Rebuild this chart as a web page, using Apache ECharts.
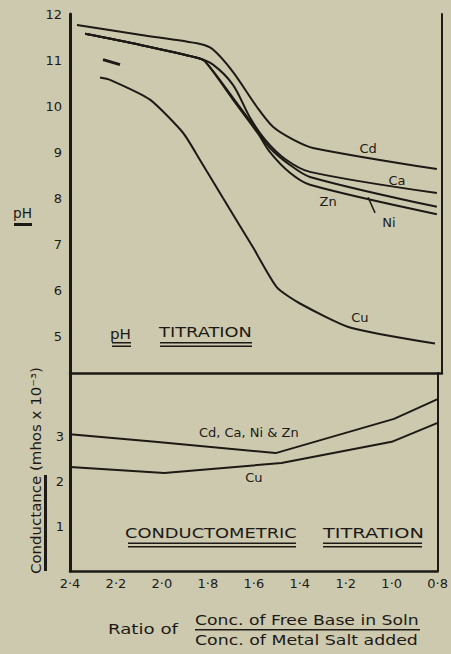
<!DOCTYPE html>
<html>
<head>
<meta charset="utf-8">
<script src="https://cdn.jsdelivr.net/npm/echarts@6/dist/echarts.min.js"></script>
<style>
html,body{margin:0;padding:0;background:#cdc9ae;}
#c{width:451px;height:654px;}
</style>
</head>
<body>
<div id="c"></div>
<script>
// ---------- data ----------
const xTicks = [2.4, 2.2, 2.0, 1.8, 1.6, 1.4, 1.2, 1.0, 0.8];
const xTickLabels = ['2·4', '2·2', '2·0', '1·8', '1·6', '1·4', '1·2', '1·0', '0·8'];
const pHTicks = [5, 6, 7, 8, 9, 10, 11, 12];
const condTicks = [1, 2, 3];

// pH titration curves: [ratio, pH]
const pH_Cd = [[2.37, 11.76], [2.1, 11.55], [1.84, 11.35], [1.785, 11.23], [1.70, 10.75], [1.596, 9.98], [1.527, 9.55], [1.44, 9.27], [1.355, 9.09], [0.822, 8.63]];
const pH_Ca = [[2.335, 11.57], [2.1, 11.33], [1.854, 11.05], [1.785, 10.90], [1.699, 10.46], [1.626, 9.75], [1.561, 9.27], [1.475, 8.85], [1.368, 8.57], [0.822, 8.11]];
const pH_Zn = [[2.335, 11.57], [2.1, 11.33], [1.854, 11.05], [1.819, 10.97], [1.699, 10.18], [1.591, 9.44], [1.54, 9.09], [1.454, 8.72], [1.368, 8.46], [0.822, 7.81]];
const pH_Ni = [[2.335, 11.57], [2.1, 11.33], [1.854, 11.05], [1.819, 10.97], [1.699, 10.14], [1.591, 9.40], [1.54, 9.00], [1.454, 8.55], [1.368, 8.29], [0.822, 7.65]];
const pH_Cu = [[2.271, 10.62], [2.228, 10.57], [2.056, 10.14], [1.914, 9.42], [1.841, 8.83], [1.742, 8.00], [1.613, 6.93], [1.51, 6.06], [1.411, 5.71], [1.196, 5.19], [0.83, 4.84]];
const pH_stroke = [[2.258, 11.01], [2.185, 10.90]];
const niLeader = [[1.118, 8.02], [1.088, 7.68]];

// conductometric titration: [ratio, conductance]
const cond_CdCaNiZn = [[2.4, 3.04], [2.03, 2.87], [1.505, 2.62], [0.99, 3.38], [0.8, 3.82]];
const cond_Cu = [[2.4, 2.31], [1.99, 2.18], [1.48, 2.40], [1.0, 2.87], [0.8, 3.29]];

// curve label positions [ratio, value, text]
const pHLabels = [[1.118, 9.07, 'Cd'], [0.994, 8.39, 'Ca'], [1.29, 7.92, 'Zn'], [1.028, 7.48, 'Ni'], [1.153, 5.41, 'Cu']];
const condLabels = [[1.622, 3.07, 'Cd, Ca, Ni & Zn'], [1.60, 2.07, 'Cu']];

// ---------- styling ----------
const INK = '#1d1a16';
const BG = '#cdc9ae';
const FONT = '"DejaVu Sans", sans-serif';

const cv = document.createElement('canvas').getContext('2d');
function fitText(str, x1, x2, cy, size) {
  cv.font = size + 'px ' + FONT;
  const w = cv.measureText(str).width;
  return {
    type: 'text', x: x1, y: cy, scaleX: (x2 - x1) / w,
    style: { text: str, x: 0, y: 0, fill: INK, font: size + 'px ' + FONT, align: 'left', verticalAlign: 'middle' }
  };
}
function hbar(x1, x2, y, h) {
  return { type: 'rect', shape: { x: x1, y: y, width: x2 - x1, height: h }, style: { fill: INK } };
}

function xFmt(v) {
  for (let i = 0; i < xTicks.length; i++) if (Math.abs(xTicks[i] - v) < 1e-6) return xTickLabels[i];
  return '';
}

const chart = echarts.init(document.getElementById('c'), null, { renderer: 'svg' });

const lineBase = { type: 'line', showSymbol: false, symbol: 'none', silent: true, lineStyle: { color: INK, width: 2 } };

function labelPoints(list) {
  return {
    symbol: 'circle', symbolSize: 0, silent: true,
    label: { show: true, position: 'inside', color: INK, fontSize: 13, fontFamily: FONT, formatter: p => p.name },
    data: list.map(d => ({ coord: [d[0], d[1]], name: d[2], value: 0 }))
  };
}

const xAxisBase = {
  type: 'value', inverse: true, min: 0.8, max: 2.4, interval: 0.2,
  splitLine: { show: false }, axisTick: { show: false },
  axisLine: { show: true, lineStyle: { color: INK, width: 2.5 } }
};

chart.setOption({
  backgroundColor: BG,
  animation: false,
  grid: [
    { left: 70, right: 9, top: 14, height: 359 },
    { left: 70, right: 9, top: 373, height: 198 }
  ],
  xAxis: [
    Object.assign({}, xAxisBase, { gridIndex: 0, axisLabel: { show: false } }),
    Object.assign({}, xAxisBase, {
      gridIndex: 1,
      axisLabel: { show: true, color: INK, fontSize: 13, fontFamily: FONT, margin: 6, formatter: xFmt }
    })
  ],
  yAxis: [
    {
      type: 'value', gridIndex: 0, min: 4.2, max: 12, position: 'left',
      splitLine: { show: false }, axisTick: { show: false },
      axisLine: { show: true, lineStyle: { color: INK, width: 3 } },
      axisLabel: { color: INK, fontSize: 13, fontFamily: FONT, margin: 8, customValues: pHTicks }
    },
    {
      type: 'value', gridIndex: 0, min: 4.2, max: 12, position: 'right',
      splitLine: { show: false }, axisTick: { show: false }, axisLabel: { show: false },
      axisLine: { show: true, lineStyle: { color: INK, width: 2 } }
    },
    {
      type: 'value', gridIndex: 1, min: 0, max: 4.4, position: 'left',
      splitLine: { show: false }, axisTick: { show: false },
      axisLine: { show: true, lineStyle: { color: INK, width: 3 } },
      axisLabel: { color: INK, fontSize: 13, fontFamily: FONT, margin: 6, customValues: condTicks }
    },
    {
      type: 'value', gridIndex: 1, min: 0, max: 4.4, position: 'right',
      splitLine: { show: false }, axisTick: { show: false }, axisLabel: { show: false },
      axisLine: { show: true, lineStyle: { color: INK, width: 2 } }
    }
  ],
  series: [
    Object.assign({}, lineBase, { name: 'Cd', data: pH_Cd, smooth: 0.3, xAxisIndex: 0, yAxisIndex: 0, markPoint: labelPoints(pHLabels) }),
    Object.assign({}, lineBase, { name: 'Ca', data: pH_Ca, smooth: 0.3, xAxisIndex: 0, yAxisIndex: 0 }),
    Object.assign({}, lineBase, { name: 'Zn', data: pH_Zn, smooth: 0.3, xAxisIndex: 0, yAxisIndex: 0 }),
    Object.assign({}, lineBase, { name: 'Ni', data: pH_Ni, smooth: 0.3, xAxisIndex: 0, yAxisIndex: 0 }),
    Object.assign({}, lineBase, { name: 'Cu', data: pH_Cu, smooth: 0.2, xAxisIndex: 0, yAxisIndex: 0 }),
    Object.assign({}, lineBase, { name: 'stroke', data: pH_stroke, xAxisIndex: 0, yAxisIndex: 0, lineStyle: { color: INK, width: 3 } }),
    Object.assign({}, lineBase, { name: 'Ni leader', data: niLeader, xAxisIndex: 0, yAxisIndex: 0, lineStyle: { color: INK, width: 1.5 } }),
    Object.assign({}, lineBase, { name: 'Cd, Ca, Ni & Zn', data: cond_CdCaNiZn, xAxisIndex: 1, yAxisIndex: 2, markPoint: labelPoints(condLabels) }),
    Object.assign({}, lineBase, { name: 'Cu cond', data: cond_Cu, xAxisIndex: 1, yAxisIndex: 2 })
  ],
  graphic: [
    // y-axis name "pH"
    fitText('pH', 13, 32, 213, 14),
    hbar(14, 32, 223, 3),
    // pH TITRATION
    fitText('pH', 110, 131, 334, 14),
    hbar(112, 131, 342, 1.5), hbar(112, 131, 345.5, 1.5),
    fitText('TITRATION', 159, 252, 332, 14),
    hbar(160, 252, 342, 1.5), hbar(160, 252, 345.5, 1.5),
    // CONDUCTOMETRIC TITRATION
    fitText('CONDUCTOMETRIC', 125, 297, 533, 14),
    hbar(128, 296, 542.5, 1.5), hbar(128, 296, 546, 1.5),
    fitText('TITRATION', 323, 424, 533, 14),
    hbar(323, 422, 542.5, 1.5), hbar(323, 422, 546, 1.5),
    // Conductance axis name (rotated)
    (function () {
      const t = fitText('Conductance (mhos x 10⁻³)', 0, 207, 0, 14);
      t.x = 36; t.y = 574; t.rotation = Math.PI / 2;
      return t;
    })(),
    { type: 'rect', shape: { x: 44, y: 475, width: 3, height: 96 }, style: { fill: INK } },
    // x-axis title
    fitText('Ratio of', 108, 178, 629, 14),
    fitText('Conc. of Free Base in Soln', 195, 419, 620, 14),
    hbar(195, 420, 629, 1.5),
    fitText('Conc. of Metal Salt added', 195, 418, 640, 14)
  ]
});
</script>
</body>
</html>
